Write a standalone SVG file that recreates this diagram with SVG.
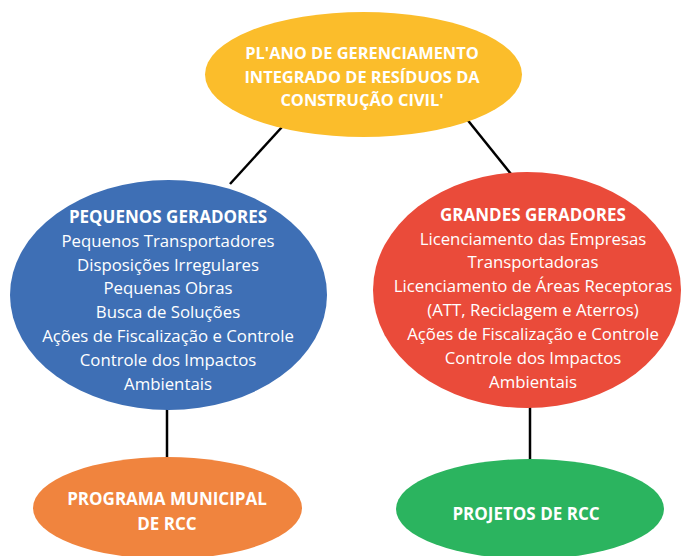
<svg xmlns="http://www.w3.org/2000/svg" width="681" height="556" viewBox="0 0 681 556">
<style>
text{font-family:"Open Sans","Liberation Sans",sans-serif;fill:#fff;text-anchor:middle}
.b{font-weight:bold;font-size:17px}
.t{font-weight:bold;font-size:16.4px}
.r{font-size:16.8px}
.c{stroke:#000;stroke-width:2.5;fill:none}
</style>
<rect width="681" height="556" fill="#fff"/>
<g id="connectors">
<line class="c" x1="282" y1="127" x2="230" y2="184"/>
<line class="c" x1="466" y1="118" x2="511" y2="174"/>
<line class="c" x1="167" y1="408" x2="167" y2="458"/>
<line class="c" x1="530" y1="405" x2="530" y2="460"/>
</g>
<g id="plano">
<ellipse cx="363.5" cy="74.5" rx="158.5" ry="62.5" fill="#FBBD2B"/>
<text class="t" x="362" y="59">PL'ANO DE GERENCIAMENTO</text>
<text class="t" x="362" y="83">INTEGRADO DE RESÍDUOS DA</text>
<text class="t" x="362" y="106">CONSTRUÇÃO CIVIL'</text>
</g>
<g id="pequenos">
<ellipse cx="168.5" cy="295" rx="158.5" ry="115" fill="#3E6FB5"/>
<text class="b" x="168" y="223">PEQUENOS GERADORES</text>
<text class="r" x="168" y="247">Pequenos Transportadores</text>
<text class="r" x="168" y="271">Disposições Irregulares</text>
<text class="r" x="168" y="294">Pequenas Obras</text>
<text class="r" x="168" y="318">Busca de Soluções</text>
<text class="r" x="168" y="342">Ações de Fiscalização e Controle</text>
<text class="r" x="168" y="366">Controle dos Impactos</text>
<text class="r" x="168" y="390">Ambientais</text>
</g>
<g id="grandes">
<ellipse cx="527" cy="290" rx="154" ry="118" fill="#EA4B3A"/>
<text class="b" x="533" y="221">GRANDES GERADORES</text>
<text class="r" x="533" y="245">Licenciamento das Empresas</text>
<text class="r" x="533" y="268">Transportadoras</text>
<text class="r" x="533" y="292">Licenciamento de Áreas Receptoras</text>
<text class="r" x="533" y="316">(ATT, Reciclagem e Aterros)</text>
<text class="r" x="533" y="340">Ações de Fiscalização e Controle</text>
<text class="r" x="533" y="364">Controle dos Impactos</text>
<text class="r" x="533" y="388">Ambientais</text>
</g>
<g id="programa">
<ellipse cx="167.5" cy="508" rx="134.5" ry="51" fill="#F0843E"/>
<text class="b" x="167" y="505">PROGRAMA MUNICIPAL</text>
<text class="b" x="167" y="530">DE RCC</text>
</g>
<g id="projetos">
<ellipse cx="530" cy="509" rx="134" ry="50" fill="#2BB45F"/>
<text class="b" x="526" y="520">PROJETOS DE RCC</text>
</g>
</svg>
